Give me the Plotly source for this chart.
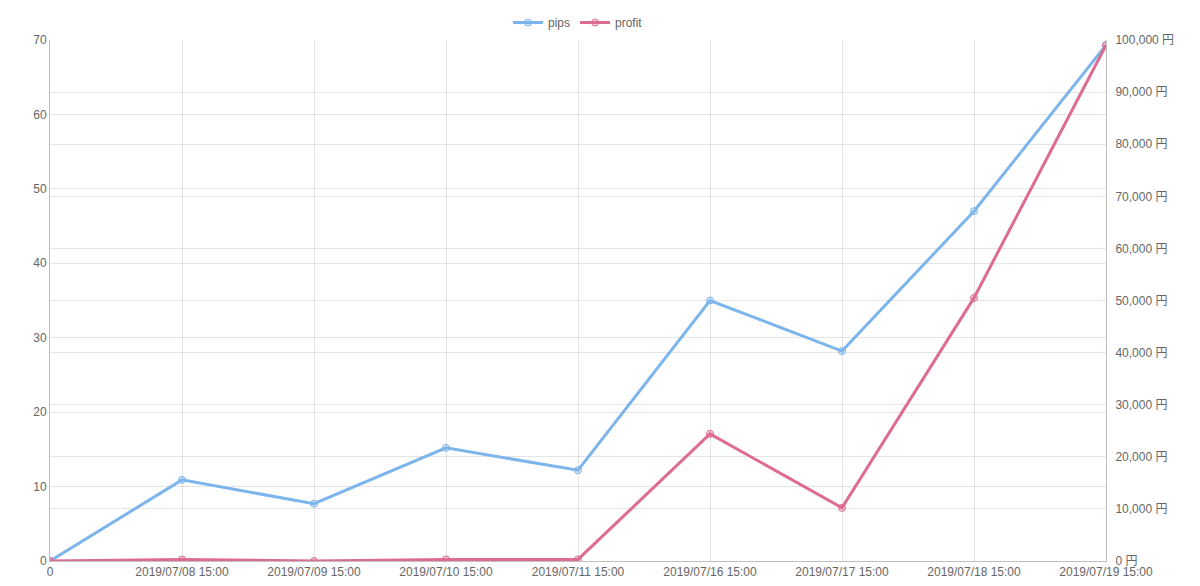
import plotly.graph_objects as go

labels = ["0", "2019/07/08 15:00", "2019/07/09 15:00", "2019/07/10 15:00", "2019/07/11 15:00",
          "2019/07/16 15:00", "2019/07/17 15:00", "2019/07/18 15:00", "2019/07/19 15:00"]
pips = [0, 10.9, 7.7, 15.2, 12.2, 35.0, 28.2, 47.0, 69.3]
profit = [0, 300, 0, 300, 300, 24400, 10200, 50500, 99000]

xs = list(range(len(labels)))
blue = "rgb(124,181,236)"
pink = "rgb(221,107,146)"

fig = go.Figure()
fig.add_trace(go.Scatter(x=xs, y=pips, name="pips", mode="lines+markers",
                         line=dict(color=blue, width=3),
                         marker=dict(size=7, color="rgba(124,181,236,0.3)", line=dict(color=blue, width=1))))
fig.add_trace(go.Scatter(x=xs, y=profit, name="profit", mode="lines+markers", yaxis="y2",
                         line=dict(color=pink, width=3),
                         marker=dict(size=7, color="rgba(221,107,146,0.3)", line=dict(color=pink, width=1))))

grid = "rgba(0,0,0,0.1)"
dom = [0, 1 - 32 / 553]
fig.update_layout(
    width=1200, height=586, plot_bgcolor="white", paper_bgcolor="white",
    margin=dict(l=42, r=102, t=0, b=33, autoexpand=False),
    font=dict(family="Helvetica, Liberation Sans, Arial", size=12, color="#666"),
    legend=dict(orientation="h", x=0.5, xanchor="center", y=1.0, yanchor="top",
                font=dict(size=12, color="#666")),
    xaxis=dict(tickvals=xs, ticktext=labels, range=[0, 8], showgrid=True, gridcolor=grid,
               zeroline=False, showline=True, linecolor="rgba(0,0,0,0.25)", ticks="", tickangle=0,
               automargin=False),
    yaxis=dict(domain=dom, range=[0, 70], dtick=10, showgrid=True, gridcolor=grid, zeroline=False,
               showline=True, linecolor="rgba(0,0,0,0.25)", ticks="", automargin=False),
    yaxis2=dict(range=[0, 100000], dtick=10000, overlaying="y", side="right", showgrid=True,
                gridcolor=grid, zeroline=False, tickformat=",d", ticksuffix=" 円",
                showline=True, linecolor="rgba(0,0,0,0.25)", ticks="outside", ticklen=6,
                tickcolor="rgba(0,0,0,0)", automargin=False,
                tickfont=dict(family="Helvetica, Liberation Sans, Noto Sans CJK JP", size=12, color="#666")),
)
fig.write_html("out.html")
